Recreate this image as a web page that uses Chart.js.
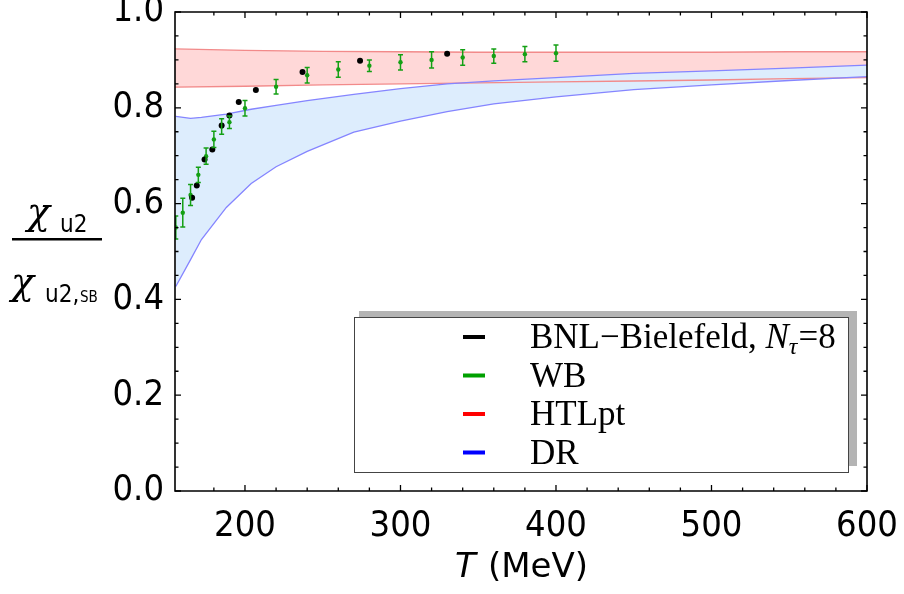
<!DOCTYPE html>
<html>
<head>
<meta charset="utf-8">
<script src="https://cdn.jsdelivr.net/npm/chart.js@4"></script>
<style>
  html, body { margin: 0; padding: 0; background: #fff; }
</style>
</head>
<body>
<canvas id="chiChart" width="904" height="594"></canvas>
<script>
// lattice data, BNL-Bielefeld Ntau=8
const bnlT = [166, 169, 174, 179, 185, 190, 196, 207, 237, 274, 330];
const bnlChi = [0.612, 0.638, 0.692, 0.713, 0.763, 0.784, 0.812, 0.837, 0.875, 0.898, 0.913];

// lattice data, WB (with errors)
const wbT = [155.5, 160, 165, 170, 175, 180, 185, 190, 200, 220, 240, 260, 280, 300, 320, 340, 360, 380, 400];
const wbChi = [0.550, 0.581, 0.618, 0.660, 0.699, 0.734, 0.761, 0.770, 0.799, 0.844, 0.868, 0.880, 0.888, 0.895, 0.900, 0.905, 0.908, 0.912, 0.914];
const wbErr = [0.024, 0.030, 0.022, 0.016, 0.017, 0.017, 0.016, 0.013, 0.016, 0.015, 0.016, 0.016, 0.012, 0.016, 0.017, 0.016, 0.015, 0.016, 0.017];

// HTLpt band
const htlT = [155, 200, 250, 300, 350, 400, 450, 500, 550, 600];
const htlLow = [0.843, 0.845, 0.848, 0.850, 0.852, 0.854, 0.856, 0.858, 0.861, 0.863];
const htlHigh = [0.923, 0.920, 0.918, 0.917, 0.916, 0.916, 0.916, 0.916, 0.917, 0.917];

// DR band
const drT = [155.5, 165, 172, 188, 204, 220, 240, 270, 300, 330, 360, 400, 450, 500, 550, 600];
const drLow = [0.427, 0.483, 0.525, 0.592, 0.642, 0.677, 0.709, 0.749, 0.772, 0.792, 0.808, 0.823, 0.838, 0.848, 0.857, 0.865];
const drHigh = [0.782, 0.778, 0.780, 0.787, 0.797, 0.805, 0.815, 0.828, 0.840, 0.850, 0.856, 0.863, 0.872, 0.877, 0.883, 0.889];

const xTicks = [200, 300, 400, 500, 600];
const yTicks = [0, 0.2, 0.4, 0.6, 0.8, 1.0];

const legendLabels = ["BNL\u2212Bielefeld, ", "WB", "HTLpt", "DR"];
const legendColors = ["#000000", "#00a000", "#ff0000", "#0000ff"];

const tickFont = "'DejaVu Sans Condensed', 'DejaVu Sans', sans-serif";
const pts = (xs, ys) => xs.map((t, i) => ({ x: t, y: ys[i] }));

function drawErrorBars(chart) {
  const { ctx, chartArea: a } = chart;
  const x = chart.scales.x, y = chart.scales.y;
  ctx.save();
  ctx.beginPath();
  ctx.rect(a.left, a.top, a.right - a.left, a.bottom - a.top);
  ctx.clip();
  ctx.strokeStyle = "#14a014";
  ctx.lineWidth = 1.5;
  ctx.beginPath();
  wbT.forEach((t, i) => {
    const px = x.getPixelForValue(t);
    const lo = y.getPixelForValue(wbChi[i] - wbErr[i]);
    const hi = y.getPixelForValue(wbChi[i] + wbErr[i]);
    ctx.moveTo(px, lo); ctx.lineTo(px, hi);
    ctx.moveTo(px - 2.5, lo); ctx.lineTo(px + 2.5, lo);
    ctx.moveTo(px - 2.5, hi); ctx.lineTo(px + 2.5, hi);
  });
  ctx.stroke();
  ctx.restore();
}

function drawFrame(chart) {
  const { ctx, chartArea: a } = chart;
  const x = chart.scales.x, y = chart.scales.y;
  ctx.save();
  ctx.strokeStyle = "#000000";
  ctx.lineWidth = 1.6;
  ctx.beginPath();
  ctx.rect(a.left, a.top, a.right - a.left, a.bottom - a.top);
  ctx.stroke();
  ctx.lineWidth = 1.3;
  ctx.beginPath();
  for (let t = 180; t <= 600; t += 20) {
    const px = x.getPixelForValue(t);
    const len = t % 100 === 0 ? 6 : 3.5;
    ctx.moveTo(px, a.bottom); ctx.lineTo(px, a.bottom - len);
    ctx.moveTo(px, a.top); ctx.lineTo(px, a.top + len);
  }
  for (let k = 0; k <= 20; k++) {
    const py = y.getPixelForValue(k * 0.05);
    const len = k % 4 === 0 ? 6 : 3.5;
    ctx.moveTo(a.left, py); ctx.lineTo(a.left + len, py);
    ctx.moveTo(a.right, py); ctx.lineTo(a.right - len, py);
  }
  ctx.stroke();
  ctx.restore();
}

function drawLegend(ctx) {
  ctx.save();
  ctx.fillStyle = "#b4b4b4";
  ctx.fillRect(359, 311, 498, 155);
  ctx.fillStyle = "#ffffff";
  ctx.fillRect(354, 317, 494, 155);
  ctx.strokeStyle = "#444444";
  ctx.lineWidth = 1;
  ctx.strokeRect(354.5, 317.5, 494, 155);
  ctx.textBaseline = "alphabetic";
  legendLabels.forEach((lab, i) => {
    const cy = 337 + i * 38.5;
    ctx.fillStyle = legendColors[i];
    ctx.fillRect(463, cy - 2, 22, 4);
    ctx.fillStyle = "#000";
    ctx.font = "35px 'Liberation Serif'";
    const base = cy + 11;
    ctx.fillText(lab, 530, base);
    if (i === 0) {
      let xx = 530 + ctx.measureText(lab).width;
      ctx.font = "italic 35px 'Liberation Serif'";
      ctx.fillText("N", xx, base);
      xx += ctx.measureText("N").width;
      ctx.font = "italic 24px 'Liberation Serif'";
      ctx.fillText("\u03c4", xx, base + 6);
      xx += ctx.measureText("\u03c4").width + 1;
      ctx.font = "35px 'Liberation Serif'";
      ctx.fillText("=8", xx, base);
    }
  });
  ctx.restore();
}

function drawTitles(ctx) {
  ctx.save();
  ctx.fillStyle = "#000";
  ctx.textBaseline = "alphabetic";
  // y axis title, as a fraction
  ctx.font = "italic 38px 'DejaVu Serif'";
  ctx.fillText("\u03c7", 27, 224);
  ctx.font = "24px " + tickFont;
  ctx.fillText("u2", 60, 232);
  ctx.fillRect(12, 238, 90, 2.5);
  ctx.font = "italic 38px 'DejaVu Serif'";
  ctx.fillText("\u03c7", 11, 294);
  ctx.font = "24px " + tickFont;
  ctx.fillText("u2,", 45, 302);
  ctx.font = "15px " + tickFont;
  ctx.fillText("SB", 80, 302);
  // x axis title
  ctx.font = "italic 34px 'DejaVu Sans'";
  ctx.fillText("T", 455, 577);
  ctx.font = "34px 'DejaVu Sans'";
  ctx.fillText("(MeV)", 488, 577);
  ctx.restore();
}

const framePlugin = {
  id: "framePlugin",
  afterDraw(chart) {
    drawErrorBars(chart);
    drawFrame(chart);
    drawLegend(chart.ctx);
    drawTitles(chart.ctx);
  }
};

const ctx = document.getElementById("chiChart").getContext("2d");
new Chart(ctx, {
  type: "scatter",
  data: {
    datasets: [
      {
        label: "BNL-Bielefeld",
        data: pts(bnlT, bnlChi),
        pointRadius: 3,
        pointBackgroundColor: "#000",
        pointBorderWidth: 0,
        showLine: false
      },
      {
        label: "WB",
        data: pts(wbT, wbChi),
        pointRadius: 2.2,
        pointBackgroundColor: "#14a014",
        pointBorderWidth: 0,
        showLine: false
      },
      {
        label: "DR low",
        data: pts(drT, drLow),
        showLine: true,
        borderColor: "#8585ff",
        borderWidth: 1.3,
        pointRadius: 0,
        fill: false
      },
      {
        label: "DR",
        data: pts(drT, drHigh),
        showLine: true,
        borderColor: "#8585ff",
        borderWidth: 1.3,
        pointRadius: 0,
        fill: "-1",
        backgroundColor: "#ddedfd"
      },
      {
        label: "HTLpt low",
        data: pts(htlT, htlLow),
        showLine: true,
        borderColor: "#f28a8a",
        borderWidth: 1.3,
        pointRadius: 0,
        fill: false
      },
      {
        label: "HTLpt",
        data: pts(htlT, htlHigh),
        showLine: true,
        borderColor: "#f28a8a",
        borderWidth: 1.3,
        pointRadius: 0,
        fill: "-1",
        backgroundColor: "#ffd8d8"
      }
    ]
  },
  options: {
    responsive: false,
    animation: false,
    devicePixelRatio: 1,
    layout: { padding: { left: 0, right: 37, top: 12, bottom: 0 } },
    plugins: {
      legend: { display: false },
      tooltip: { enabled: false },
      filler: { drawTime: "beforeDatasetsDraw" }
    },
    scales: {
      x: {
        type: "linear",
        min: 155,
        max: 600,
        grid: { display: false },
        border: { display: false },
        afterBuildTicks: (s) => { s.ticks = xTicks.map((v) => ({ value: v })); },
        afterFit: (s) => { s.height = 103; s.paddingLeft = 0; s.paddingRight = 0; },
        ticks: {
          color: "#000",
          padding: 6,
          maxRotation: 0,
          autoSkip: false,
          font: { family: tickFont, size: 36 }
        }
      },
      y: {
        min: 0,
        max: 1,
        grid: { display: false },
        border: { display: false },
        afterBuildTicks: (s) => { s.ticks = yTicks.map((v) => ({ value: v })); },
        afterFit: (s) => { s.width = 175; s.paddingTop = 0; s.paddingBottom = 0; },
        ticks: {
          color: "#000",
          padding: 3,
          font: { family: tickFont, size: 36 },
          callback: (v) => v.toFixed(1)
        }
      }
    }
  },
  plugins: [framePlugin]
});
</script>
</body>
</html>
